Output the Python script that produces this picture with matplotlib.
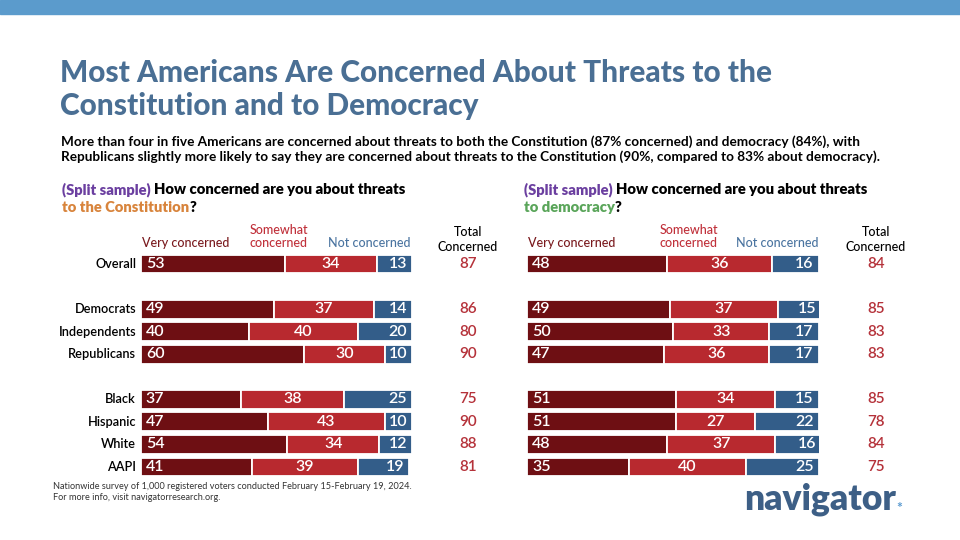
import matplotlib
matplotlib.use('Agg')
import matplotlib.pyplot as plt
import matplotlib.transforms as mtransforms
from matplotlib.patches import Rectangle

# ---- data -------------------------------------------------------------
groups = ['Overall', 'Democrats', 'Independents', 'Republicans',
          'Black', 'Hispanic', 'White', 'AAPI']
rows = [0, 2, 3, 4, 6, 7, 8, 9]  # blank rows separate the blocks

const_very = [53, 49, 40, 60, 37, 47, 54, 41]
const_some = [34, 37, 40, 30, 38, 43, 34, 39]
const_not = [13, 14, 20, 10, 25, 10, 12, 19]
const_total = [87, 86, 80, 90, 75, 90, 88, 81]

demo_very = [48, 49, 50, 47, 51, 51, 48, 35]
demo_some = [36, 37, 33, 36, 34, 27, 37, 40]
demo_not = [16, 15, 17, 17, 15, 22, 16, 25]
demo_total = [84, 85, 83, 83, 85, 78, 84, 75]

title = 'Most Americans Are Concerned About Threats to the\nConstitution and to Democracy'
subtitle = ('More than four in five Americans are concerned about threats to both the '
            'Constitution (87% concerned) and democracy (84%), with\nRepublicans slightly '
            'more likely to say they are concerned about threats to the Constitution '
            '(90%, compared to 83% about democracy).')
footnote = ('Nationwide survey of 1,000 registered voters conducted February 15-February 19, 2024.\n'
            'For more info, visit navigatorresearch.org.')

# ---- style ------------------------------------------------------------
DARK_RED = '#6e0f13'
RED = '#b8292f'
BLUE = '#335d89'
TOTAL_RED = '#b5323a'
TITLE_BLUE = '#4a6f94'
PURPLE = '#6b3fa0'
ORANGE = '#d8843c'
GREEN = '#5aa55a'

W, H = 960, 540
plt.rcParams['font.family'] = ['Lato', 'DejaVu Sans']

fig = plt.figure(figsize=(9.6, 5.4), dpi=100)
renderer = fig.canvas.get_renderer()


def fx(x):
    return x / W


def fy(y):
    return 1 - y / H


def text_runs(x, y, runs, size, weight='bold'):
    # draw pieces of one line in different colours, side by side
    for s, c in runs:
        t = fig.text(fx(x), fy(y), s, color=c, fontsize=size,
                     fontweight=weight, va='baseline', ha='left')
        bb = t.get_window_extent(renderer=renderer)
        x += bb.width


# top band
fig.patches.append(Rectangle((0, fy(14)), 1, 14 / H, transform=fig.transFigure,
                             color='#5b9bcc', zorder=0))

fig.text(fx(60), fy(59), title, color=TITLE_BLUE, fontsize=21.4, fontweight='black',
         va='top', ha='left', linespacing=1.22)
fig.text(fx(61), fy(135), subtitle, color='black', fontsize=9.8, fontweight='bold',
         va='top', ha='left', linespacing=1.22)
fig.text(fx(53), fy(482), footnote, color='#333333', fontsize=6.6,
         va='top', ha='left', linespacing=1.3)

# logo
fig.text(fx(744), fy(499), 'navigator', color='#3d5f86', fontsize=25.5,
         fontweight='heavy', va='center', ha='left')
fig.text(fx(899), fy(508), '*', color='#5a9ad0', fontsize=10,
         fontweight='bold', va='center', ha='center')


def panel(x0, x1, very, some, notc, total, total_x, topic, topic_color,
          som_x, labels):
    ax = fig.add_axes([fx(x0), fy(478.3), (x1 - x0) / W, 225.6 / H])
    ax.set_xlim(0, 100)
    ax.set_ylim(9.5, -0.5)
    ax.axis('off')

    left3 = [a + b for a, b in zip(very, some)]
    kw = dict(height=0.84, edgecolor='white', linewidth=1.3)
    ax.barh(rows, very, color=DARK_RED, **kw)
    ax.barh(rows, some, left=very, color=RED, **kw)
    ax.barh(rows, notc, left=left3, color=BLUE, **kw)

    vkw = dict(color='white', fontsize=11.5, fontweight='semibold', va='center')
    for r, a, b, c, l3 in zip(rows, very, some, notc, left3):
        ax.text(1.8, r, str(a), ha='left', **vkw)
        ax.text(a + b / 2, r, str(b), ha='center', **vkw)
        ax.text(l3 + c - 1.8, r, str(c), ha='right', **vkw)

    blend = mtransforms.blended_transform_factory(fig.transFigure, ax.transData)
    for r, t in zip(rows, total):
        ax.text(fx(total_x), r, str(t), transform=blend, ha='center', va='center',
                color=TOTAL_RED, fontsize=11, fontweight='semibold', clip_on=False)
    if labels:
        for r, g in zip(rows, groups):
            ax.text(fx(136), r, g, transform=blend, ha='right', va='center',
                    color='black', fontsize=9.2, fontweight='semibold', clip_on=False)

    # column headers
    hkw = dict(fontsize=9, va='baseline', fontweight='medium')
    fig.text(fx(x0 + 1), fy(247), 'Very concerned', color='#7a1a1e', ha='left', **hkw)
    fig.text(fx(som_x), fy(247), 'Somewhat\nconcerned', color='#c0303a', ha='center',
             linespacing=1.15, **hkw)
    fig.text(fx(x1 - 1), fy(247), 'Not concerned', color='#4a74a0', ha='right', **hkw)
    fig.text(fx(total_x), fy(251), 'Total\nConcerned', color='black', ha='center',
             linespacing=1.3, **hkw)

    # question
    qx = x0 - 79 if labels else x0 - 3
    text_runs(qx, 194, [('(Split sample) ', PURPLE),
                        ('How concerned are you about threats', 'black')], 10.6, 'heavy')
    text_runs(qx, 212, [(topic, topic_color), ('?', 'black')], 10.6, 'heavy')


panel(141, 412, const_very, const_some, const_not, const_total, 468,
      'to the Constitution', ORANGE, 279, True)
panel(527, 819, demo_very, demo_some, demo_not, demo_total, 876,
      'to democracy', GREEN, 689, False)

fig.savefig('out.png', dpi=100)
